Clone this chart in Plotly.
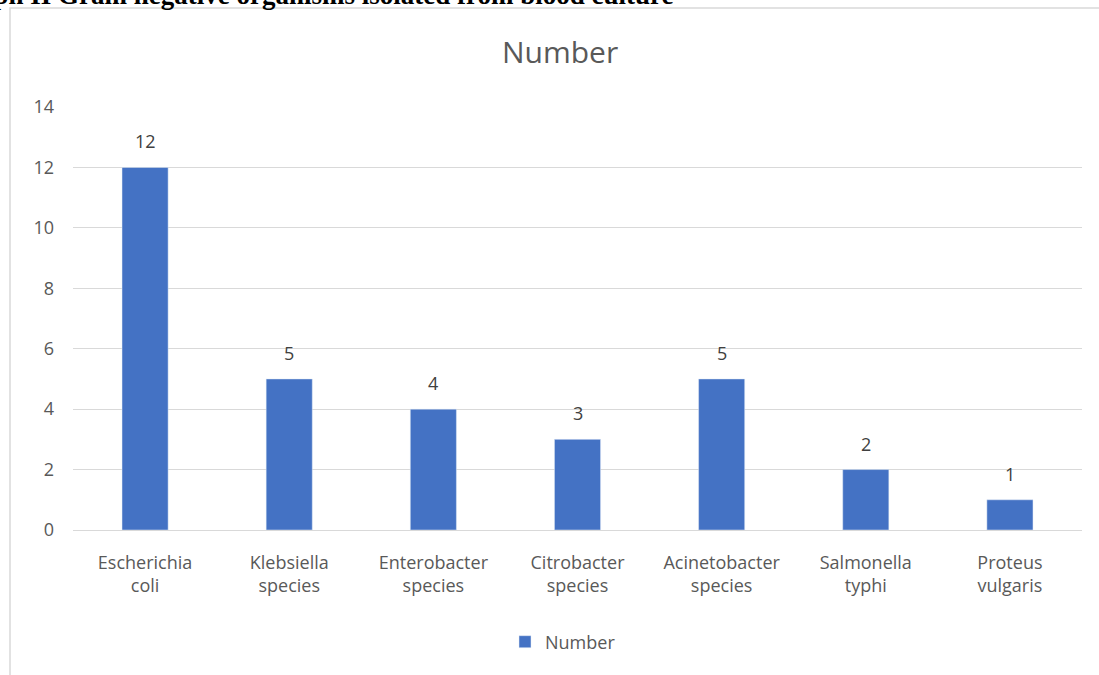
import plotly.graph_objects as go

categories = ["Escherichia<br>coli", "Klebsiella<br>species", "Enterobacter<br>species",
              "Citrobacter<br>species", "Acinetobacter<br>species", "Salmonella<br>typhi",
              "Proteus<br>vulgaris"]
counts = [12, 5, 4, 3, 5, 2, 1]
y_ticks = [0, 2, 4, 6, 8, 10, 12, 14]

W, H = 1099, 675
ML, MR, MT, MB = 73, 17, 107, 145
PH = H - MT - MB
PW = W - ML - MR


def px_x(x):
    return (x - ML) / PW


def px_y(y):
    return (H - MB - y) / PH


GREY = "#595959"
FONT = "'Open Sans', 'Noto Sans', sans-serif"

fig = go.Figure(go.Bar(
    x=categories, y=counts, name="Number",
    marker=dict(color="#4472c4"),
    cliponaxis=False,
))

# value labels above each bar
value_labels = [
    dict(x=c, y=v, xref="x", yref="y", text=str(v), showarrow=False,
         yanchor="middle", yshift=26, font=dict(size=18, color="#404040", family=FONT))
    for c, v in zip(categories, counts)
]

fig.update_layout(
    width=W, height=H,
    margin=dict(l=ML, r=MR, t=MT, b=MB),
    paper_bgcolor="white", plot_bgcolor="white",
    bargap=0.68,
    font=dict(family=FONT, color=GREY, size=18),
    showlegend=True,
    legend=dict(orientation="h", x=px_x(563), xanchor="center", y=px_y(642), yanchor="middle",
                font=dict(size=18, color=GREY, family=FONT), itemwidth=30),
    xaxis=dict(showline=True, linecolor="#d9d9d9", linewidth=1, ticks="",
               ticklabelstandoff=16,
               tickfont=dict(size=18, color=GREY), fixedrange=True),
    yaxis=dict(range=[0, 14], tickvals=y_ticks, showgrid=True, gridcolor="#d9d9d9",
               gridwidth=1, zeroline=False, ticks="", ticklen=0, ticklabelstandoff=18,
               tickfont=dict(size=18, color=GREY), fixedrange=True),
    annotations=value_labels + [
        dict(text="Number", x=px_x(560), xref="paper", y=px_y(52), yref="paper",
             xanchor="center", yanchor="middle", showarrow=False,
             font=dict(size=30, color=GREY, family=FONT)),
        dict(text="<b>Graph II Gram negative organisms isolated from blood culture</b>",
             x=px_x(676), xref="paper", y=px_y(12), yref="paper",
             xanchor="right", yanchor="bottom", showarrow=False,
             font=dict(size=27, color="black", family="'Liberation Serif', serif")),
    ],
    shapes=[
        dict(type="rect", xref="paper", yref="paper",
             x0=px_x(10), x1=px_x(W + 5), y0=px_y(8), y1=px_y(H + 5),
             line=dict(color="#d9d9d9", width=1.5), fillcolor="rgba(0,0,0,0)", layer="below"),
    ],
)

fig.write_html("out.html")
